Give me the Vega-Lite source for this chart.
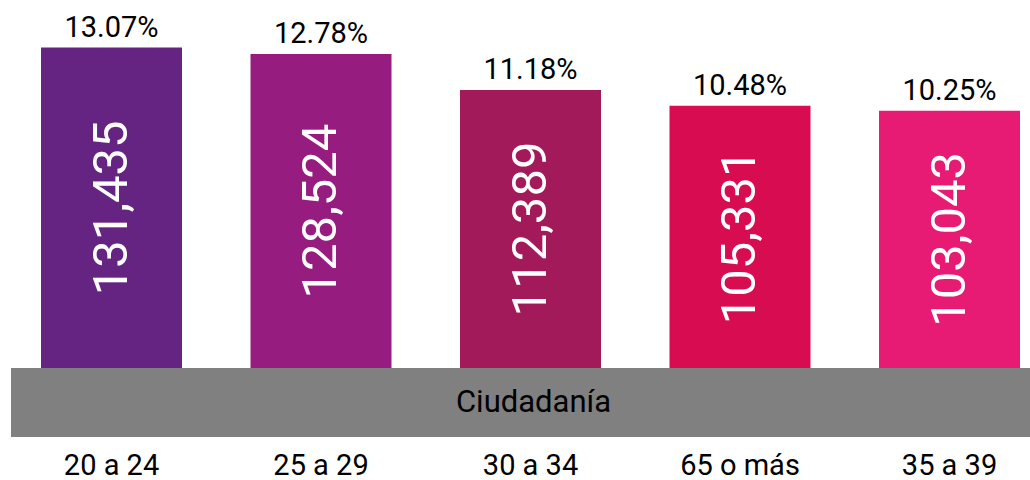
{
  "$schema": "https://vega.github.io/schema/vega-lite/v6.json",
  "padding": {"left": 11, "right": 0, "top": 0, "bottom": 0},
  "spacing": 0,
  "config": {"view": {"stroke": null}, "font": "Roboto"},
  "datasets": {
    "edades": [
      {"edad": "20 a 24", "total": 131435, "pct": 0.1307},
      {"edad": "25 a 29", "total": 128524, "pct": 0.1278},
      {"edad": "30 a 34", "total": 112389, "pct": 0.1118},
      {"edad": "65 o más", "total": 105331, "pct": 0.1048},
      {"edad": "35 a 39", "total": 103043, "pct": 0.1025}
    ],
    "grupo": [{"grupo": "Ciudadanía"}]
  },
  "vconcat": [
    {
      "width": 1019,
      "height": 368,
      "data": {"name": "edades"},
      "layer": [
        {
          "mark": {"type": "bar"},
          "encoding": {
            "x": {"field": "edad", "type": "nominal", "sort": null, "axis": null,
                  "scale": {"type": "band", "paddingInner": 0.327, "paddingOuter": 0.0955, "align": 0.75}},
            "y": {"field": "total", "type": "quantitative", "axis": null,
                  "scale": {"domain": [-12663, 152843], "nice": false}},
            "y2": {"datum": -12663},
            "color": {"field": "edad", "type": "nominal", "legend": null,
                      "scale": {"domain": ["20 a 24", "25 a 29", "30 a 34", "65 o más", "35 a 39"],
                                "range": ["#662482", "#961C80", "#A31A5A", "#D70C51", "#E71A74"]}}
          }
        },
        {
          "mark": {"type": "text", "baseline": "alphabetic", "dy": -11, "fontSize": 29, "color": "#000000"},
          "encoding": {
            "x": {"field": "edad", "type": "nominal", "sort": null, "axis": null},
            "y": {"field": "total", "type": "quantitative", "axis": null,
                  "scale": {"domain": [-12663, 152843], "nice": false}},
            "text": {"field": "pct", "type": "quantitative", "format": ".2%"}
          }
        },
        {
          "mark": {"type": "text", "angle": -90, "align": "center", "baseline": "middle", "fontSize": 49, "color": "#ffffff"},
          "encoding": {
            "x": {"field": "edad", "type": "nominal", "sort": null, "axis": null},
            "y": {"field": "total", "type": "quantitative", "axis": null,
                  "scale": {"domain": [-12663, 318349], "nice": false}},
            "text": {"field": "total", "type": "quantitative", "format": ",d"}
          }
        }
      ],
      "resolve": {"scale": {"y": "independent"}}
    },
    {
      "width": 1019,
      "height": 69,
      "layer": [
        {
          "data": {"name": "grupo"},
          "mark": {"type": "rect", "color": "#808080"},
          "encoding": {}
        },
        {
          "data": {"name": "grupo"},
          "mark": {"type": "text", "fontSize": 31, "color": "#000000", "dx": 13, "baseline": "middle"},
          "encoding": {"text": {"field": "grupo"}}
        },
        {
          "data": {"name": "edades"},
          "mark": {"type": "point", "opacity": 0},
          "encoding": {
            "x": {"field": "edad", "type": "nominal", "sort": null,
                  "scale": {"type": "band", "paddingInner": 0.327, "paddingOuter": 0.0955, "align": 0.75},
                  "axis": {"title": null, "domain": false, "ticks": false, "labelAngle": 0,
                           "labelFontSize": 29, "labelColor": "#000000", "labelPadding": 14, "labelFont": "Roboto"}}
          }
        }
      ]
    }
  ]
}
